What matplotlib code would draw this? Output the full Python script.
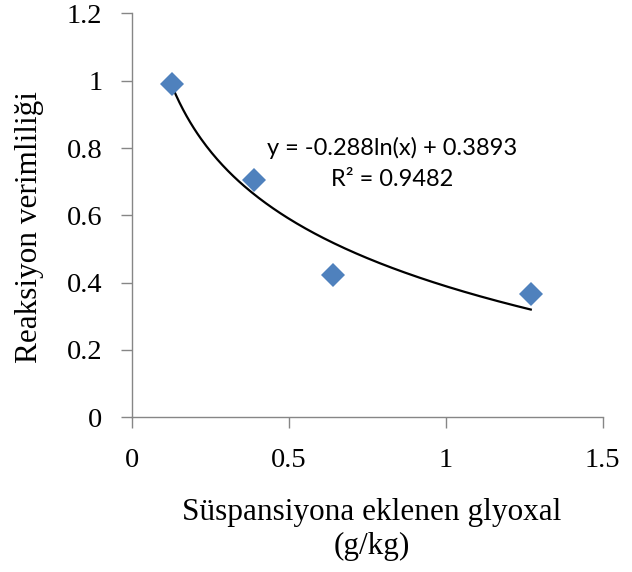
import numpy as np
import matplotlib.pyplot as plt

# glyoxal added (g/kg) vs reaction yield
glyoxal = [0.129, 0.389, 0.640, 1.271]
verim = [0.990, 0.705, 0.423, 0.367]

xticks = [0, 0.5, 1, 1.5]
yticks = [0, 0.2, 0.4, 0.6, 0.8, 1.0, 1.2]
xtick_labels = ['0', '0.5', '1', '1.5']
ytick_labels = ['0', '0.2', '0.4', '0.6', '0.8', '1', '1.2']

eq_text = 'y = -0.288ln(x) + 0.3893'
r2_text = 'R² = 0.9482'

# logarithmic trendline fitted to the points
b, a = np.polyfit(np.log(glyoxal), verim, 1)
xs = np.linspace(min(glyoxal), max(glyoxal), 200)

gray = '#868686'
serif = 'Liberation Serif'

fig = plt.figure(figsize=(6.32, 5.72), dpi=100)
ax = fig.add_axes([0.2084, 0.2705, 0.7452, 0.7061])

ax.plot(xs, b * np.log(xs) + a, color='black', linewidth=1.6, zorder=2)
ax.plot(glyoxal, verim, linestyle='none', marker='D', markersize=12,
        color='#4F81BD', markeredgewidth=0, zorder=3)

ax.set_xlim(0, 1.5)
ax.set_ylim(0, 1.2)
ax.set_xticks(xticks)
ax.set_xticklabels(xtick_labels)
ax.set_yticks(yticks)
ax.set_yticklabels(ytick_labels)

for side in ['top', 'right']:
    ax.spines[side].set_visible(False)
for side in ['left', 'bottom']:
    ax.spines[side].set_color(gray)
    ax.spines[side].set_linewidth(1.0)

ax.tick_params(direction='out', length=8, width=1.0, color=gray,
               labelsize=20.5, labelcolor='black')
ax.tick_params(axis='y', pad=13)
ax.tick_params(axis='x', pad=14)
for lab in ax.get_xticklabels() + ax.get_yticklabels():
    lab.set_family(serif)

ax.text(0.83, 0.80, eq_text, ha='center', va='center', fontsize=17, family='Lato')
ax.text(0.83, 0.705, r2_text, ha='center', va='center', fontsize=17, family='Lato')

fig.text(0.588, 0.074, 'Süspansiyona eklenen glyoxal\n(g/kg)', ha='center', va='center',
         fontsize=22.5, family=serif, linespacing=1.2)
fig.text(0.046, 0.603, 'Reaksiyon verimliliği', ha='center', va='center',
         rotation=90, fontsize=22.5, family=serif)

fig.savefig('out.png', dpi=100)
